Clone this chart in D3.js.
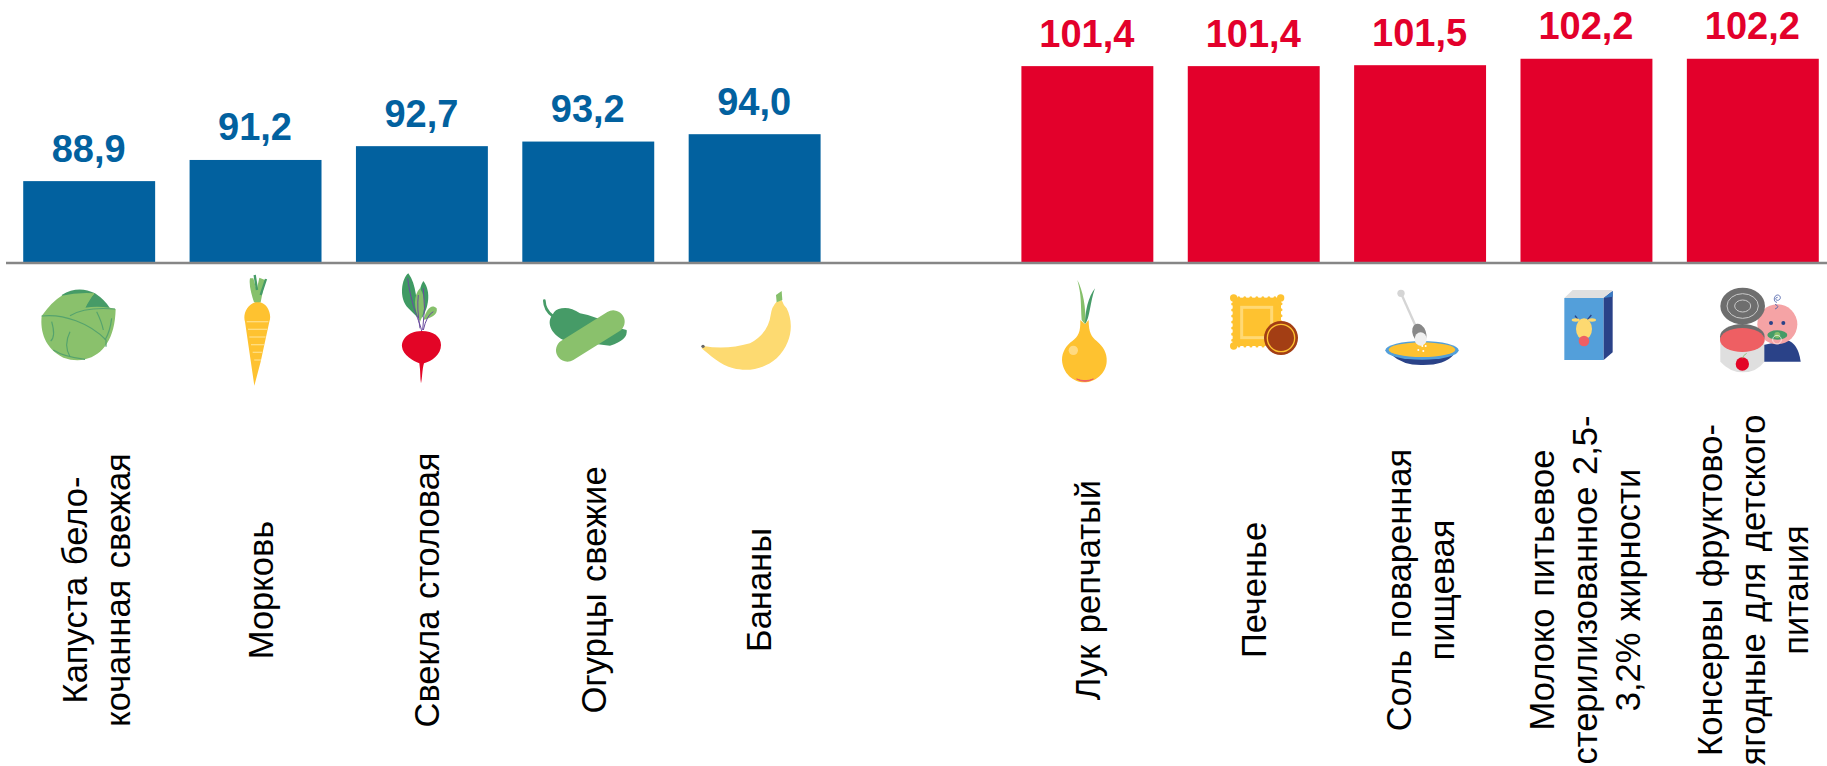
<!DOCTYPE html>
<html><head><meta charset="utf-8">
<script src="https://cdn.jsdelivr.net/npm/d3@7/dist/d3.min.js"></script>
<style>html,body{margin:0;padding:0;background:#fff;overflow:hidden}svg{display:block}text{font-family:"Liberation Sans",Arial,sans-serif}</style>
</head><body><div id="c"></div>
<script>
const categories=["Капуста бело-кочанная свежая","Морковь","Свекла столовая","Огурцы свежие","Бананы","gap","Лук репчатый","Печенье","Соль поваренная пищевая","Молоко питьевое стерилизованное 2,5-3,2% жирности","Консервы фруктово-ягодные для детского питания"];
const values=[88.9,91.2,92.7,93.2,94.0,null,101.4,101.4,101.5,102.2,102.2];
const labelLines=[["Капуста бело-","кочанная свежая"],["Морковь"],["Свекла столовая"],["Огурцы свежие"],["Бананы"],[],["Лук репчатый"],["Печенье"],["Соль поваренная","пищевая"],["Молоко питьевое","стерилизованное 2,5-","3,2% жирности"],["Консервы фруктово-","ягодные для детского","питания"]];
const labelShift=[-2,17.4,17,17.6,16,0,12.4,12,-9.4,-32,-31];
const BLUE="#02619F",RED="#E3002B";
const W=1827,H=766,base=263;
const svg=d3.select("#c").append("svg").attr("width",W).attr("height",H);
const x=d3.scaleBand().domain(categories).range([6,1836]).paddingInner(0.207).paddingOuter(0.1035);
const y=d3.scaleLinear().domain([80,110]).range([base,base-30*9.2]);
const rows=categories.map((c,i)=>({c,v:values[i],lines:labelLines[i],dx:labelShift[i]}));
const data=rows.filter(d=>d.v!==null);
const col=d=>d.v>100?RED:BLUE;
svg.selectAll("rect.bar").data(data).join("rect").attr("class","bar")
 .attr("x",d=>x(d.c)).attr("width",x.bandwidth()).attr("y",d=>y(d.v)).attr("height",d=>base-y(d.v)).attr("fill",col);
svg.selectAll("text.val").data(data).join("text").attr("class","val")
 .attr("x",d=>x(d.c)+x.bandwidth()/2-0.5).attr("y",d=>y(d.v)-19.5).attr("text-anchor","middle")
 .attr("font-size",38).attr("font-weight","bold").attr("fill",col)
 .text(d=>d.v.toFixed(1).replace(".",","));
svg.append("line").attr("x1",6).attr("x2",W).attr("y1",base).attr("y2",base).attr("stroke","#868686").attr("stroke-width",2.5);
const lab=svg.selectAll("g.lab").data(data).join("g").attr("class","lab");
lab.each(function(d){
  d3.select(this).selectAll("text").data(d.lines).join("text")
   .attr("transform",(l,i)=>`translate(${x(d.c)+x.bandwidth()/2+d.dx+i*43},590) rotate(-90)`)
   .attr("text-anchor","middle").attr("font-size",34.5).attr("word-spacing",2).attr("fill","#000").text(l=>l);
});
const G="#8AC16C",DG="#469B67",Y="#FEC230",NAVY="#2A4288",SKY="#539FDA",COR="#EE5F63";
const icons=[
[20,`
<path d="M125,90Q175,60 225,85Q255,105 270,130L195,135L150,140Z" fill="${DG}"/>
<path d="M125,92Q95,110 65,153C60,200 75,250 130,278Q165,290 195,283C250,270 285,220 287,132L270,128Q230,122 195,128L222,85Q170,82 125,92Z" fill="${G}"/>
<g fill="none" stroke="#55A36D" stroke-width="3.5"><path d="M65,153C130,145 210,175 258,225L258,245"/><path d="M150,152Q195,125 285,132"/><path d="M95,170Q108,215 92,228"/><path d="M150,200Q130,240 150,275"/><path d="M230,140Q245,170 250,195"/><path d="M275,160Q270,200 255,225"/><path d="M100,255Q130,275 195,283"/></g>
<path d="M195,128Q200,105 222,85" fill="none" stroke="${G}" stroke-width="4"/>
<path d="M712,110C680,115 668,150 675,170L703,362L722,290L748,170C756,150 745,112 712,110Z" fill="${Y}"/>
<g stroke="#FFDD80" stroke-width="4"><path d="M680,170H745"/><path d="M684,193H742"/><path d="M688,216H737"/><path d="M693,239H732"/><path d="M698,262H727"/><path d="M703,285H723"/></g>
<path d="M702,112C695,90 686,60 690,40L700,40L710,75L718,38L735,45L722,112Z" fill="#86C06B"/>
<g stroke="${DG}" fill="none" stroke-width="7"><path d="M704,30L711,75"/><path d="M738,42L722,90"/></g>
<path d="M1165,25C1145,40 1135,100 1165,130L1195,160C1190,110 1190,60 1165,25Z" fill="#3F9A63"/>
<path d="M1210,48C1195,70 1195,110 1205,160C1225,130 1235,80 1210,48Z" fill="#3F9A63"/>
<path d="M1200,70C1180,90 1180,130 1200,170C1215,140 1220,100 1200,70Z" fill="#86C06B"/>
<path d="M1250,130C1235,115 1220,130 1210,165C1230,160 1255,150 1250,130Z" fill="#86C06B"/>
<g stroke="#6A4C9F" fill="none" stroke-width="3"><path d="M1205,198C1200,170 1175,130 1163,40"/><path d="M1208,195Q1218,130 1210,70"/><path d="M1210,195Q1220,150 1240,140"/><path d="M1200,190Q1190,130 1195,90"/></g>
<path d="M1205,198C1160,200 1145,225 1146,245C1148,270 1180,288 1198,295C1202,320 1200,340 1203,355C1207,340 1206,315 1212,295C1235,288 1263,270 1263,240C1263,215 1240,198 1205,198Z" fill="#E30526"/>
`],
[520,`
<path d="M73,107Q74,135 97,152" fill="none" stroke="${DG}" stroke-width="8" stroke-linecap="round"/>
<path d="M97,150C80,170 90,205 130,225L270,242Q325,225 320,195L300,190L232,160Q210,150 180,145Q150,125 125,130Q105,132 97,150Z" fill="${DG}"/>
<path d="M142,256L280,170" stroke="${G}" stroke-width="68" stroke-linecap="round" fill="none"/>
<path d="M550,243Q620,255 690,235Q745,205 752,150Q755,125 770,110L785,105Q790,120 800,130C820,170 820,230 770,280C730,315 680,320 640,310C600,300 570,270 545,250Z" fill="#FDDA71"/>
<path d="M768,90L785,78L787,105L770,112Z" fill="#86C06B"/><circle cx="549" cy="244" r="5" fill="#666"/>
`],
[1040,`
<path d="M112,45C128,75 140,130 135,178L125,165C122,120 125,90 112,45Z" fill="#86C06B"/>
<path d="M165,70C145,95 135,140 135,178C150,160 150,110 165,70Z" fill="${DG}"/>
<path d="M121,165L135,178L146,165C146,205 155,215 170,228C190,245 202,265 200,290C198,325 165,352 133,352C100,352 68,325 66,285C66,260 80,240 97,228C115,215 122,200 121,165Z" fill="${Y}"/>
<path d="M110,342Q135,352 160,342Q135,356 110,342Z" fill="${COR}" stroke="${COR}" stroke-width="3"/>
<circle cx="100" cy="256" r="14" fill="#FFDA80"/>
<rect x="578" y="98" width="145" height="145" fill="${Y}" stroke="${Y}" stroke-width="9" stroke-dasharray="0.1 18" stroke-linecap="round"/>
<g fill="${Y}"><circle cx="581" cy="99" r="11"/><circle cx="722" cy="99" r="11"/><circle cx="581" cy="243" r="11"/></g>
<rect x="605" y="127" width="90" height="91" fill="none" stroke="#FFD975" stroke-width="9"/>
<circle cx="723" cy="219" r="51" fill="#A33E14"/><circle cx="723" cy="219" r="41" fill="none" stroke="${Y}" stroke-width="4"/>
<path d="M1055,270Q1090,302 1150,300Q1215,300 1240,270Z" fill="${NAVY}"/>
<ellipse cx="1146" cy="256" rx="110" ry="28" fill="${SKY}"/><ellipse cx="1146" cy="254" rx="100" ry="22" fill="${Y}"/>
<path d="M1083,85L1130,190" stroke="#D5D5D5" stroke-width="7"/><circle cx="1083" cy="85" r="11" fill="#D5D5D5"/>
<ellipse cx="1138" cy="205" rx="20" ry="30" transform="rotate(-20 1138 205)" fill="#888"/><ellipse cx="1142" cy="222" rx="18" ry="20" fill="#F0F0F0"/>
<g fill="#fff"><circle cx="1135" cy="255" r="3"/><circle cx="1150" cy="258" r="3"/><circle cx="1147" cy="243" r="3"/><circle cx="1157" cy="243" r="3"/></g>
`],
[1530,`
<rect x="103" y="99" width="118" height="186" fill="${SKY}"/>
<path d="M103,99L128,75H248L221,99Z" fill="#E0E0E0"/><path d="M221,99L248,78V262L221,285Z" fill="${NAVY}"/><path d="M221,99L248,78V95Z" fill="#3B7CC4"/>
<path d="M145,165L135,152M172,165L184,150" stroke="${NAVY}" stroke-width="4"/>
<g fill="#FDD971"><ellipse cx="137" cy="165" rx="12" ry="5"/><ellipse cx="186" cy="165" rx="12" ry="5"/><ellipse cx="162" cy="192" rx="24" ry="32"/></g>
<circle cx="162" cy="228" r="16" fill="${COR}"/>
<path d="M700,290H812Q805,235 770,225L700,240Z" fill="${NAVY}"/>
<circle cx="742" cy="178" r="60" fill="#F5A3A5"/><circle cx="723" cy="174" r="6" fill="${NAVY}"/><circle cx="760" cy="174" r="6" fill="${NAVY}"/>
<ellipse cx="742" cy="210" rx="30" ry="14" fill="${DG}"/><circle cx="742" cy="210" r="9" fill="#86C06B"/><circle cx="741" cy="224" r="13" fill="none" stroke="#fff" stroke-width="2"/>
<path d="M735,118Q752,125 735,132M741,112C730,112 730,92 742,90C754,90 754,106 742,106C735,105 736,96 743,97" fill="none" stroke="#4A5FA8" stroke-width="2.5"/>
<ellipse cx="638" cy="123" rx="67" ry="55" fill="#6E6E6E"/><ellipse cx="638" cy="123" rx="47" ry="37" fill="none" stroke="#C9C9C9" stroke-width="3"/><ellipse cx="638" cy="123" rx="24" ry="18" fill="none" stroke="#C9C9C9" stroke-width="3"/>
<path d="M571,215V290Q600,322 638,322Q680,322 703,290V215Z" fill="#DFDFDF"/>
<ellipse cx="637" cy="215" rx="67" ry="38" fill="#6E6E6E"/><ellipse cx="637" cy="225" rx="67" ry="36" fill="${COR}"/>
<circle cx="637" cy="297" r="20" fill="#E30526"/><path d="M637,280Q640,270 650,265" fill="none" stroke="#86C06B" stroke-width="2.5"/>
`]];
svg.selectAll("g.icon").data(icons).join("g").attr("class","icon")
 .attr("transform",d=>`translate(${d[0]},265) scale(${1/3})`).html(d=>d[1]);
</script></body></html>
